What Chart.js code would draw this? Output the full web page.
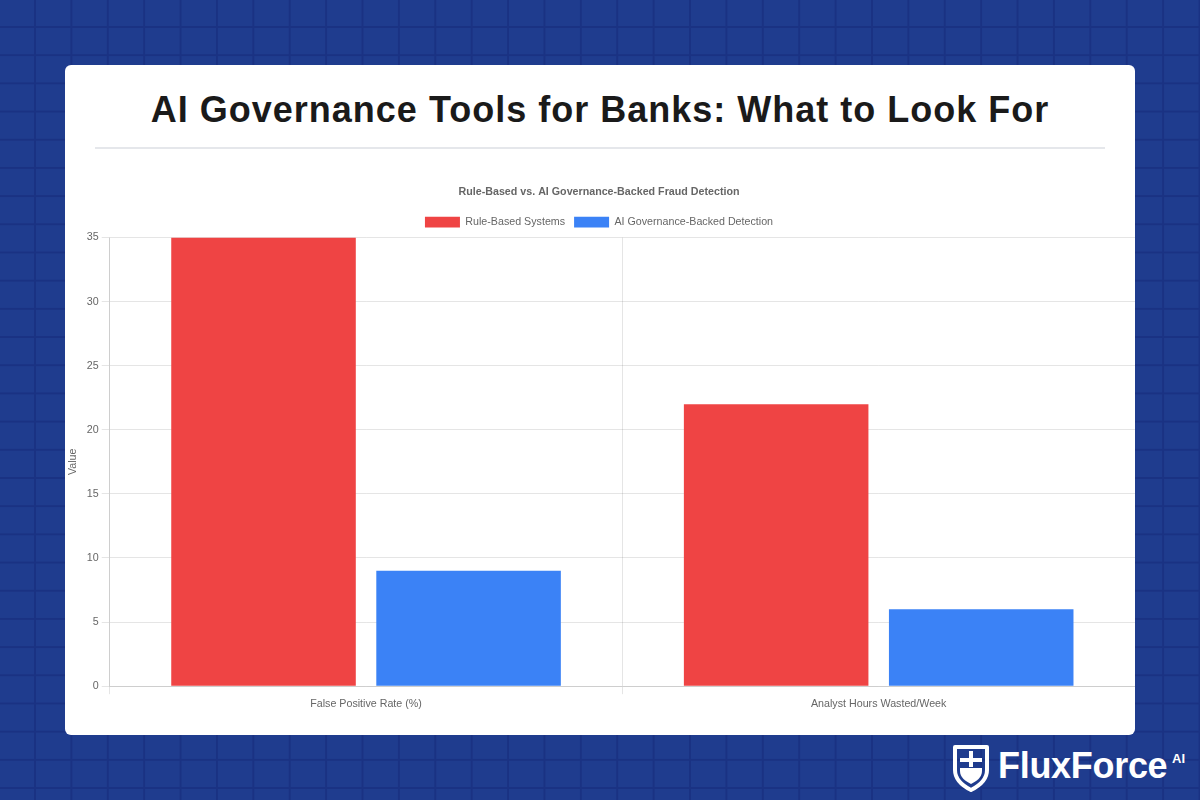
<!DOCTYPE html>
<html>
<head>
<meta charset="utf-8">
<script src="https://cdn.jsdelivr.net/npm/chart.js@4"></script>
<style>
  html, body { margin: 0; padding: 0; }
  body {
    width: 1200px; height: 800px; overflow: hidden; position: relative;
    background-color: #1f3c8e;
    background-image:
      linear-gradient(to right, #1a3283 0, #1a3283 2px, transparent 2px),
      linear-gradient(to bottom, #1a3283 0, #1a3283 2px, transparent 2px);
    background-size: 36.4px 28.2px;
    background-position: 34px 26px;
    font-family: "Liberation Sans", Arial, sans-serif;
  }
  #card {
    position: absolute; left: 65px; top: 65px; width: 1070px; height: 670px;
    background: #ffffff; border-radius: 6px;
  }
  #title {
    position: absolute; left: 0; top: 86px; width: 1200px; text-align: center;
    font-size: 36px; font-weight: bold; color: #1a1a1a; line-height: 48px; letter-spacing: 1px;
  }
  #sep {
    position: absolute; left: 95px; top: 147px; width: 1010px; height: 2px; background: #e5e7eb;
  }
  #chartBox {
    position: absolute; left: 63px; top: 177px; width: 1072px; height: 536px;
  }
  #logo {
    position: absolute; left: 952px; top: 742px; height: 50px; color: #fff;
  }
  #logo svg { position: absolute; left: 0; top: 2px; }
  #logo .name { position: absolute; left: 46px; top: 3px; font-size: 36px; font-weight: bold; letter-spacing: -0.3px; white-space: nowrap; }
  #logo .sup { position: absolute; left: 220px; top: 9px; font-size: 13px; font-weight: bold; }
</style>
</head>
<body>
<div id="card"></div>
<div id="title">AI Governance Tools for Banks: What to Look For</div>
<div id="sep"></div>
<div id="chartBox"><canvas id="c"></canvas></div>
<div id="logo">
  <svg width="38" height="48" viewBox="0 0 38 48">
    <path d="M3 3 H35 V26 C35 36 27 42 19 46 C11 42 3 36 3 26 Z" fill="none" stroke="#fff" stroke-width="4" stroke-linejoin="round"/>
    <rect x="8" y="14" width="22" height="4" fill="#fff"/>
    <rect x="17" y="7" width="4" height="16" fill="#fff"/>
    <path d="M8 24 H30 V27 C30 33 25 37 19 40 C13 37 8 33 8 27 Z" fill="#fff"/>
  </svg>
  <span class="name">FluxForce</span>
  <span class="sup">AI</span>
</div>
<script>
const categories = ["False Positive Rate (%)", "Analyst Hours Wasted/Week"];
const seriesNames = ["Rule-Based Systems", "AI Governance-Backed Detection"];
const ruleBased = [35, 22];
const aiGovernance = [9, 6];
const chartTitle = "Rule-Based vs. AI Governance-Backed Fraud Detection";
const yAxisTitle = "Value";

Chart.defaults.font.size = 10.7;
Chart.defaults.font.family = "'Liberation Sans', Arial, sans-serif";
Chart.defaults.color = "#666";

new Chart(document.getElementById("c"), {
  type: "bar",
  data: {
    labels: categories,
    datasets: [
      { label: seriesNames[0], data: ruleBased, backgroundColor: "#ef4444" },
      { label: seriesNames[1], data: aiGovernance, backgroundColor: "#3b82f6" }
    ]
  },
  options: {
    responsive: true,
    maintainAspectRatio: false,
    animation: false,
    plugins: {
      title: { display: true, text: chartTitle, padding: 9, font: { size: 10.7, weight: "bold" } },
      legend: { position: "top", labels: { boxWidth: 35, boxHeight: 10.7, padding: 9 } },
      tooltip: { enabled: false }
    },
    scales: {
      y: {
        beginAtZero: true,
        title: { display: true, text: yAxisTitle },
        ticks: { stepSize: 5 }
      },
      x: {}
    }
  }
});
</script>
</body>
</html>
